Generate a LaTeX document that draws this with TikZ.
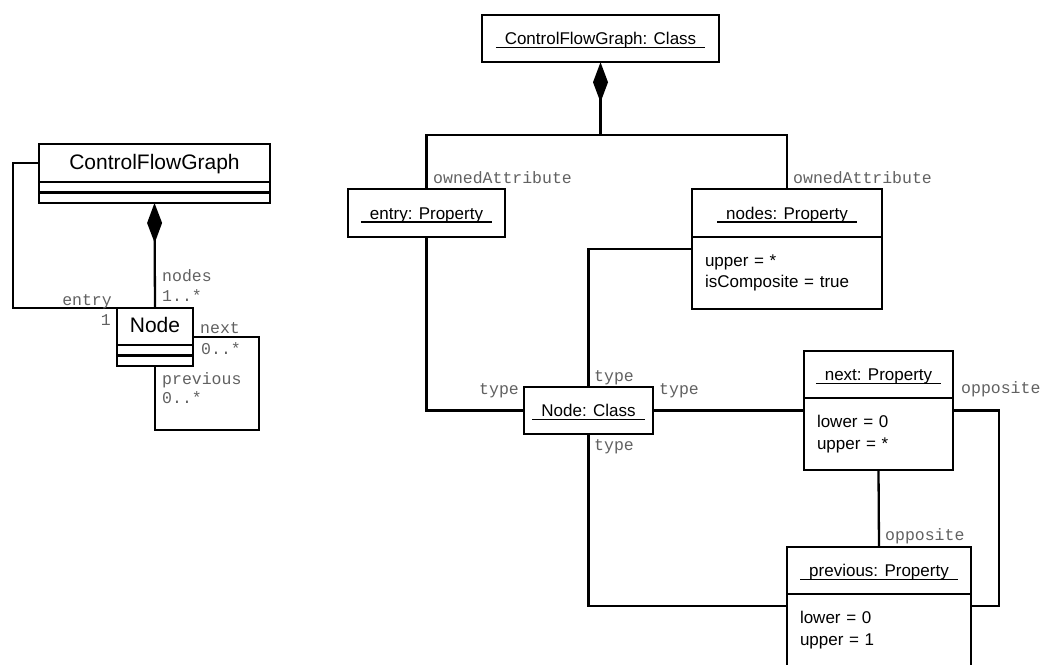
\documentclass[tikz,border=0pt]{standalone}
\usepackage{fontspec}
\setmainfont{Liberation Sans}
\setmonofont{Liberation Mono}
\usetikzlibrary{arrows.meta,positioning,calc}

\newsavebox\objbox
\newcommand\objname[1]{\sbox\objbox{#1}\rlap{\hspace{-9pt}\rule[-3.6pt]{\dimexpr\wd\objbox+18pt\relax}{1.2pt}}\usebox\objbox}

\tikzset{
    box/.style={draw, line width=2.3pt, inner sep=0pt, outer sep=0pt},
    name box/.style={box, minimum width=#1, minimum height=47.5pt, font=\fontsize{17}{20}\selectfont, text height=16pt, text depth=4pt},
    attr box/.style={box, text width=#1, inner xsep=13pt, minimum height=72pt, align=left, font=\fontsize{17}{21.5}\selectfont},
    class name/.style={box, minimum width=#1, font=\fontsize{21}{24}\selectfont, text height=17pt, text depth=5pt},
    empty part/.style={box, minimum width=#1, minimum height=10.5pt},
    role/.style={inner sep=0pt, font=\fontsize{16.5}{18}\selectfont\ttfamily, text=black!62},
    link/.style={line width=2.3pt},
    composite/.style={link, {Diamond[length=40pt,width=15pt]}-},
}

\begin{document}
\begin{tikzpicture}[x=1pt,y=-1pt]
    \useasboundingbox (0,0) rectangle (1041,664);

    % class diagram
    \node[class name=231pt, minimum height=38pt] (cfgcls) at (154.5,163) {ControlFlowGraph};
    \node[empty part=231pt, below=0pt of cfgcls] (cfgattr) {};
    \node[empty part=231pt, below=0pt of cfgattr] (cfgops) {};
    \node[class name=76pt, minimum height=37pt] (nodecls) at (155,326.5) {Node};
    \node[empty part=76pt, below=0pt of nodecls] (nodeattr) {};
    \node[empty part=76pt, below=0pt of nodeattr] (nodeops) {};

    \draw[composite] (cfgops.south) -- (nodecls.north);
    \draw[link] (cfgcls.west) -- ++(-26,0) |- (nodecls.north west);
    \draw[link] ([yshift=8pt]nodecls.south east) -- ++(66,0)
        |- ([yshift=-64pt]nodeops.south) -- (nodeops.south);

    \node[role, anchor=base east] (lentry) at (112,305) {entry};
    \node[role, anchor=base east] (lentrym) at (111,325) {1};
    \node[role, anchor=base west] (lnodes) at (162,281) {nodes};
    \node[role, anchor=base west] (lnodesm) at (162,301) {1..*};
    \node[role, anchor=base west] (lnext) at (200,333) {next};
    \node[role, anchor=base west] (lnextm) at (201,354) {0..*};
    \node[role, anchor=base west] (lprev) at (162,384) {previous};
    \node[role, anchor=base west] (lprevm) at (162,403) {0..*};

    % object diagram
    \node[name box=237pt] (cfgclass) at (600.5,38.5) {\objname{ControlFlowGraph: Class}};
    \node[name box=157pt] (entryprop) at (426.5,213) {\objname{entry: Property}};
    \node[name box=190pt] (nodesprop) at (787,213) {\objname{nodes: Property}};
    \node[attr box=164pt, below=0pt of nodesprop] (nodesattr) {upper = *\\isComposite = true};
    \node[name box=129pt] (nodeclass) at (588.5,410.5) {\objname{Node: Class}};
    \node[name box=149pt] (nextprop) at (878.5,374.5) {\objname{next: Property}};
    \node[attr box=123pt, below=0pt of nextprop] (nextattr) {lower = 0\\upper = *};
    \node[name box=184pt] (prevprop) at (879,570.5) {\objname{previous: Property}};
    \node[attr box=158pt, below=0pt of prevprop] (prevattr) {lower = 0\\upper = 1};

    \draw[composite] (cfgclass.south) -- ++(0,73) coordinate (fork);
    \draw[link] (entryprop.north) |- (fork) -| (nodesprop.north);
    \draw[link] (entryprop.south) |- (nodeclass.west);
    \draw[link] (nodeclass.north) |- ([yshift=-12pt]nodesattr.north west);
    \draw[link] (nodeclass.east) -- (nodeclass.east -| nextattr.west);
    \draw[link] (nodeclass.south) |- ([yshift=-12pt]prevattr.north west);
    \draw[link] (nextattr.south) -- (prevprop.north);
    \draw[link] (nodeclass.east -| nextattr.east) -- ++(46,0)
        |- ([yshift=-12pt]prevattr.north east);

    \node[role, anchor=base west] (lowned) at (433,183) {ownedAttribute};
    \node[role, anchor=base west] (lowned2) at (793,183) {ownedAttribute};
    \node[role, anchor=base west] (ltype) at (479,394) {type};
    \node[role, anchor=base west] (ltype2) at (594,381) {type};
    \node[role, anchor=base west] (ltype3) at (659,394) {type};
    \node[role, anchor=base west] (ltype4) at (594,450) {type};
    \node[role, anchor=base west] (lopp) at (961,393) {opposite};
    \node[role, anchor=base west] (lopp2) at (885,540) {opposite};
\end{tikzpicture}
\end{document}
